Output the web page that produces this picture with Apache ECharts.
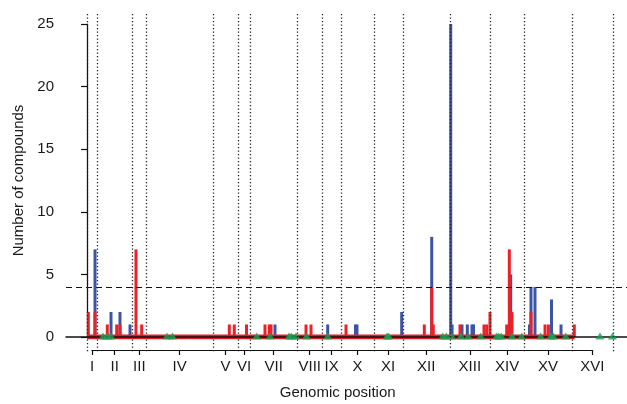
<!DOCTYPE html>
<html>
<head>
<meta charset="utf-8">
<script src="https://cdn.jsdelivr.net/npm/echarts@6/dist/echarts.min.js"></script>
<style>html,body{margin:0;padding:0;background:#fff}#c{width:627px;height:404px}</style>
</head>
<body>
<div id="c"></div>
<script>
// ---- data ----
const chromNames = ['I','II','III','IV','V','VI','VII','VIII','IX','X','XI','XII','XIII','XIV','XV','XVI'];
const chromLengthsKb = [230.2, 813.2, 316.6, 1531.9, 576.9, 270.2, 1090.9, 562.6, 439.9, 745.8, 666.8, 1078.2, 924.4, 784.3, 1091.3, 948.1];
const redPosKb = [30, 184, 466, 682, 757, 1124, 1255, 3266, 3380, 3660, 4085, 4184, 4223, 5026, 5141, 5944, 7741, 7911, 7947, 8560, 9111, 9173, 9248, 9632, 9692, 9753, 10189, 10511, 10589, 11183];
const redCounts = [2, 2, 1, 1, 1, 7, 1, 1, 1, 1, 1, 1, 1, 1, 1, 1, 1, 4, 1, 1, 1, 1, 2, 1, 7, 2, 2, 1, 1, 1];
const bluePosKb = [184, 551, 757, 987, 4314, 5524, 6162, 6196, 7222, 7911, 8347, 8378, 8606, 8728, 8835, 8870, 9723, 10155, 10189, 10281, 10660, 10878];
const blueCounts = [7, 2, 2, 1, 1, 1, 1, 1, 2, 8, 25, 1, 1, 1, 1, 1, 5, 1, 4, 4, 3, 1];
const trianglePosKb = [367, 459, 551, 1836, 1962, 3894, 4200, 4636, 4688, 4796, 5037, 5524, 6885, 6924, 8163, 8246, 8370, 8583, 8750, 9035, 9402, 9448, 9508, 9753, 9976, 10412, 10641, 10701, 10986, 11773, 12060];
const redBaselineKb = [0, 11190];
const thresholdCount = 4;
const yTicks = [0, 5, 10, 15, 20, 25];

// ---- derived ----
const starts = []; let acc = 0;
chromLengthsKb.forEach(l => { starts.push(acc); acc += l; });
const genomeEnd = acc;
const boundaries = starts.concat([genomeEnd]);
const centers = starts.map((s, i) => s + chromLengthsKb[i] / 2);

const W = 627, H = 404;
const gridLeft = 66, gridRight = 0;
const plotW = W - gridLeft - gridRight;
const pxPerKb = 526 / genomeEnd;
const XMIN = -(87 - gridLeft) / pxPerKb;
const XMAX = XMIN + plotW / pxPerKb;
const toPx = v => gridLeft + (v - XMIN) / (XMAX - XMIN) * plotW;

const font = '"Liberation Sans", Arial, Helvetica, sans-serif';
const txt = '#1a1a1a';

const chart = echarts.init(document.getElementById('c'), null, {renderer: 'canvas'});
chart.setOption({
  animation: false,
  backgroundColor: '#fff',
  textStyle: {fontFamily: font},
  grid: [
    {left: gridLeft, right: gridRight, top: 24, bottom: H - 337},
    {left: gridLeft, right: gridRight, top: 14, bottom: H - 353},
    {left: toPx(centers[0]), right: W - toPx(centers[centers.length - 1]), top: 349, height: 1}
  ],
  xAxis: [
    {gridIndex: 0, type: 'value', min: XMIN, max: XMAX, z: 5,
     axisLine: {show: true, onZero: false, lineStyle: {color: '#111', width: 1.5}},
     axisTick: {show: false}, axisLabel: {show: false}, splitLine: {show: false}},
    {gridIndex: 1, type: 'value', min: XMIN, max: XMAX, show: false},
    {gridIndex: 2, type: 'value', min: centers[0], max: centers[centers.length - 1], position: 'bottom',
     axisLine: {show: true, lineStyle: {color: '#111', width: 1.2}},
     axisTick: {show: true, length: 5, customValues: centers, lineStyle: {color: '#111', width: 1.2}},
     axisLabel: {show: true, customValues: centers, margin: 9, fontSize: 15, color: txt, fontFamily: font,
       formatter: v => { let b = 0, d = Infinity; centers.forEach((c, i) => { if (Math.abs(c - v) < d) { d = Math.abs(c - v); b = i; } }); return chromNames[b]; }},
     splitLine: {show: false},
     name: 'Genomic position', nameLocation: 'middle', nameGap: 35,
     nameTextStyle: {fontSize: 15, color: txt, fontFamily: font, padding: [0, 9, 0, 0]}}
  ],
  yAxis: [
    {gridIndex: 0, type: 'value', min: 0, max: 25, interval: 5,
     axisLine: {show: true, lineStyle: {color: '#111', width: 1.2}},
     axisTick: {show: true, length: 6, lineStyle: {color: '#111', width: 1.2}},
     axisLabel: {margin: 12, fontSize: 15, color: txt, fontFamily: font,
       formatter: v => yTicks.includes(v) ? String(v) : ''},
     splitLine: {show: false},
     name: 'Number of compounds', nameLocation: 'middle', nameGap: 39, nameRotate: 90,
     nameTextStyle: {fontSize: 15, color: txt, fontFamily: font}},
    {gridIndex: 1, type: 'value', min: 0, max: 1, show: false},
    {gridIndex: 2, type: 'value', min: 0, max: 1, show: false}
  ],
  series: [
    {type: 'line', xAxisIndex: 0, yAxisIndex: 0, z: 3, symbol: 'none',
     data: redBaselineKb.map(v => [v, 0]),
     lineStyle: {color: '#d8232a', width: 5},
     markLine: {silent: true, symbol: 'none', label: {show: false},
       lineStyle: {color: '#111', width: 1.2, type: [6, 4]},
       data: [{yAxis: thresholdCount}]}},
    {type: 'bar', name: 'blue', xAxisIndex: 0, yAxisIndex: 0, barWidth: 3, barGap: '-100%', z: 2,
     itemStyle: {color: '#3a55a5'},
     data: bluePosKb.map((p, i) => [p, blueCounts[i]])},
    {type: 'bar', name: 'red', xAxisIndex: 0, yAxisIndex: 0, barWidth: 3, barGap: '-100%', z: 2,
     itemStyle: {color: '#ec2128'},
     data: redPosKb.map((p, i) => [p, redCounts[i]])},
    {type: 'scatter', xAxisIndex: 0, yAxisIndex: 0, z: 7, symbol: 'triangle', symbolSize: [9, 7], symbolOffset: [0, -1],
     itemStyle: {color: '#17a354'},
     data: trianglePosKb.map(p => [p, 0])},
    {type: 'custom', xAxisIndex: 1, yAxisIndex: 1, z: 8, silent: true,
     data: boundaries.map(b => [b, 0]),
     encode: {x: 0, y: 1},
     renderItem: (params, api) => {
       const v = api.value(0);
       const p1 = api.coord([v, 1]), p2 = api.coord([v, 0]);
       return {type: 'line', shape: {x1: Math.round(p1[0]) + 0.5, y1: p1[1], x2: Math.round(p2[0]) + 0.5, y2: p2[1]},
               style: {stroke: '#222', lineWidth: 1.3, lineDash: [1.3, 2.2]}};
     }},
    {type: 'scatter', xAxisIndex: 2, yAxisIndex: 2, data: []}
  ]
});
</script>
</body>
</html>
